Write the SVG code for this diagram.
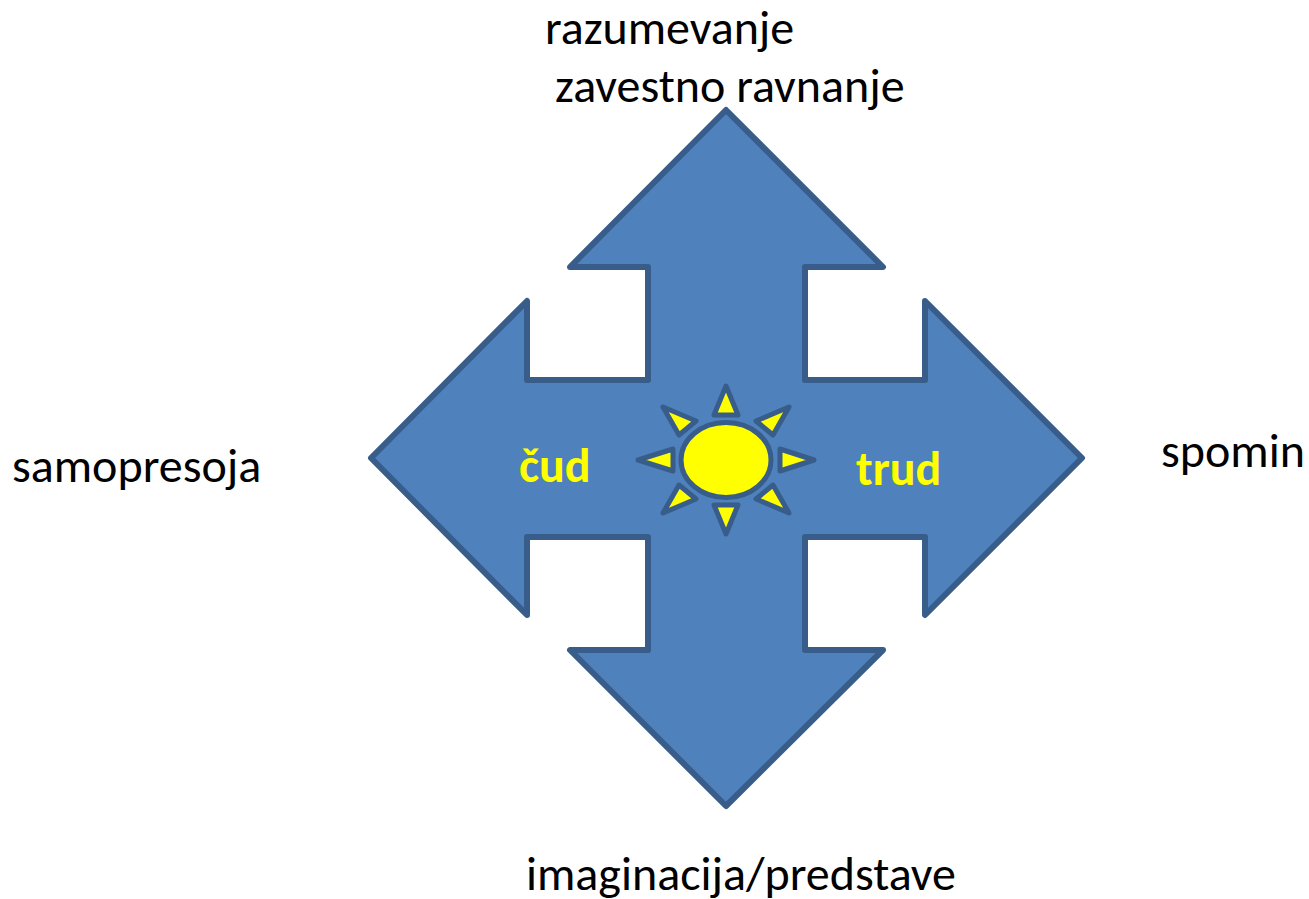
<svg xmlns="http://www.w3.org/2000/svg" width="1309" height="899" viewBox="0 0 1309 899">
<style>
.l{font-family:Carlito,"Open Sans","Liberation Sans",sans-serif;font-size:48px;fill:#000}
.y{font-family:Carlito,"Open Sans","Liberation Sans",sans-serif;font-size:48px;font-weight:700;fill:#ff0}
.s{fill:#ff0;stroke:#385d8a;stroke-width:5;stroke-linejoin:round}
</style>
<rect width="1309" height="899" fill="#fff"/>
<g id="arrow"><path d="M726 110L883 267H805V380H925V301L1082 458L925 615V537H805V650H883L726 806L570 650H648V537H527V615L371 458L527 301V380H648V267H570Z" fill="#4f81bd" stroke="#385d8a" stroke-width="6" stroke-linejoin="round"/></g>
<g id="sun">
<ellipse class="s" cx="726" cy="460" rx="45" ry="37.5"/>
<path class="s" d="M726 386L738 415H714Z"/>
<path class="s" d="M726 534L714 505H738Z"/>
<path class="s" d="M638 460L673 449V471Z"/>
<path class="s" d="M814 460L780 449V471Z"/>
<path class="s" d="M663 407L696 421L679 435Z"/>
<path class="s" d="M789 407L756 421L773 435Z"/>
<path class="s" d="M663 513L679 485L696 499Z"/>
<path class="s" d="M789 513L773 485L756 499Z"/>
</g>
<g id="t1"><text class="l" x="545" y="44">razumevanje</text></g>
<g id="t2"><text class="l" x="555" y="102">zavestno ravnanje</text></g>
<g id="t3"><text class="l" x="12" y="482">samopresoja</text></g>
<g id="t4"><text class="l" x="1161" y="467">spomin</text></g>
<g id="t5"><text class="l" x="526" y="890">imaginacija/predstave</text></g>
<g id="t6"><text class="y" x="519" y="482">čud</text></g>
<g id="t7"><text class="y" x="856" y="485">trud</text></g>
</svg>
